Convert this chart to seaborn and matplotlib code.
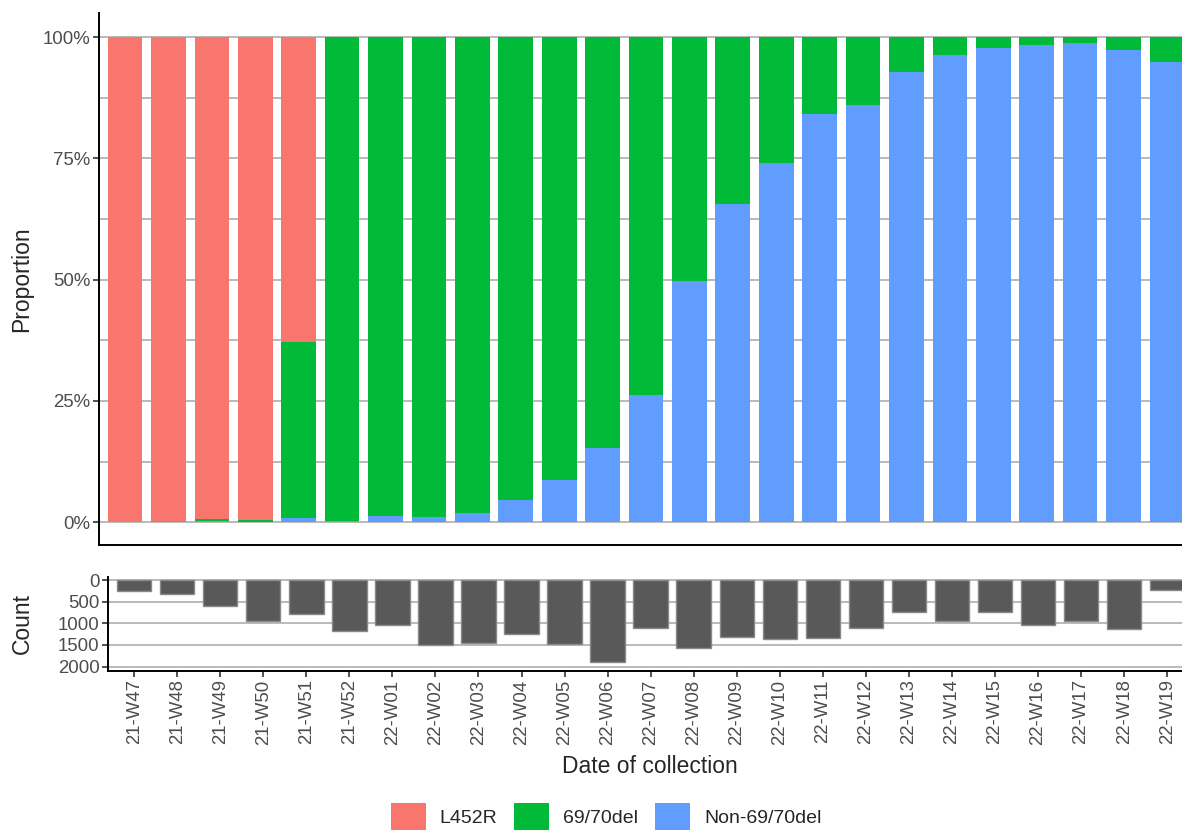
import numpy as np
import pandas as pd
import seaborn as sns
import matplotlib.pyplot as plt
from matplotlib.patches import Patch

# --- data ---
weeks = ['21-W47', '21-W48', '21-W49', '21-W50', '21-W51', '21-W52',
         '22-W01', '22-W02', '22-W03', '22-W04', '22-W05', '22-W06',
         '22-W07', '22-W08', '22-W09', '22-W10', '22-W11', '22-W12',
         '22-W13', '22-W14', '22-W15', '22-W16', '22-W17', '22-W18', '22-W19']
l452r = [1.0, 0.997, 0.994, 0.996, 0.629, 0, 0, 0, 0, 0, 0, 0,
         0, 0, 0, 0, 0, 0, 0, 0, 0, 0, 0, 0, 0]
del6970 = [0, 0, 0.003, 0.004, 0.362, 0.997, 0.988, 0.990, 0.980, 0.955, 0.913, 0.847,
           0.738, 0.503, 0.344, 0.259, 0.158, 0.139, 0.072, 0.037, 0.023, 0.017, 0.011, 0.026, 0.052]
non6970 = [0, 0.003, 0.003, 0, 0.009, 0.003, 0.012, 0.010, 0.020, 0.045, 0.087, 0.153,
           0.262, 0.497, 0.656, 0.741, 0.842, 0.861, 0.928, 0.963, 0.977, 0.983, 0.989, 0.974, 0.948]
counts = [250, 320, 590, 950, 775, 1185, 1045, 1505, 1450, 1235, 1475, 1885,
          1100, 1560, 1310, 1355, 1340, 1100, 735, 955, 735, 1030, 945, 1125, 235]

variants = ['L452R', '69/70del', 'Non-69/70del']
colors = ['#F8766D', '#00BA38', '#619CFF']

df = pd.DataFrame({'week': weeks, 'L452R': l452r, '69/70del': del6970,
                   'Non-69/70del': non6970, 'count': counts})
# cumulative tops, drawn from the top layer down
df['top_non'] = df['Non-69/70del']
df['top_del'] = df['top_non'] + df['69/70del']
df['top_l452'] = df['top_del'] + df['L452R']

sns.set_style('white')
plt.rcParams['font.family'] = ['Liberation Sans', 'DejaVu Sans']

W, H = 1182, 830
fig = plt.figure(figsize=(W / 100, H / 100), dpi=100)
ax1 = fig.add_axes([99 / W, 1 - 545 / H, (1193 - 99) / W, (545 - 13) / H])
ax2 = fig.add_axes([108.3 / W, 1 - 670.7 / H, (1193 - 108.3) / W, (670.7 - 576.7) / H])

tick_col = '#4d4d4d'
grid_col = '#bababa'

# --- top panel: stacked proportions ---
for col, c in zip(['top_l452', 'top_del', 'top_non'], colors):
    sns.barplot(data=df, x='week', y=col, order=weeks, color=c, saturation=1,
                width=0.8, linewidth=0, errorbar=None, ax=ax1, zorder=2)
ax1.set_xlim(-0.6, 24.6)
ax1.set_ylim(-0.047, 1.05)
ax1.set_yticks([0, 0.25, 0.5, 0.75, 1.0])
ax1.set_yticklabels(['0%', '25%', '50%', '75%', '100%'])
for v in np.arange(0, 1.01, 0.125):
    ax1.axhline(v, color=grid_col, lw=1.4, zorder=1)
ax1.set_xticks([])
ax1.set_xlabel('')
ax1.set_ylabel('Proportion', fontsize=16.5, va='center')
ax1.yaxis.set_label_coords((22 - 99) / (1193 - 99), 0.5)
ax1.tick_params(axis='y', labelsize=13.4, labelcolor=tick_col, color='#333333',
                length=4.3, width=1.2, left=True, pad=2)
sns.despine(ax=ax1)
for s in ['left', 'bottom']:
    ax1.spines[s].set_linewidth(1.4)
    ax1.spines[s].set_color('black')

# --- bottom panel: counts (inverted) ---
sns.barplot(data=df, x='week', y='count', order=weeks, color='#595959', saturation=1,
            width=0.8, edgecolor='#8a8a8a', linewidth=1, errorbar=None, ax=ax2, zorder=2)
ax2.set_xlim(-0.6, 24.6)
ax2.set_ylim(2094, -77)
ax2.set_yticks([0, 500, 1000, 1500, 2000])
for v in [0, 500, 1000, 1500, 2000]:
    ax2.axhline(v, color=grid_col, lw=1.4, zorder=1)
ax2.set_xticks(range(len(weeks)))
ax2.set_xticklabels(weeks, rotation=90, ha='center', va='top')
ax2.tick_params(axis='both', labelsize=13.4, labelcolor=tick_col, color='#333333',
                length=4.3, width=1.2, left=True, bottom=True, pad=2)
ax2.set_ylabel('Count', fontsize=16.5, va='center')
ax2.yaxis.set_label_coords((22 - 108.3) / (1193 - 108.3), 0.5)
ax2.set_xlabel('Date of collection', fontsize=16.5, va='center')
ax2.xaxis.set_label_coords((650 - 108.3) / (1193 - 108.3), -(766 - 670.7) / 94)
sns.despine(ax=ax2)
for s in ['left', 'bottom']:
    ax2.spines[s].set_linewidth(1.4)
    ax2.spines[s].set_color('black')

# --- legend ---
handles = [Patch(facecolor=c, edgecolor='none') for c in colors]
fig.legend(handles, variants, loc='center', bbox_to_anchor=(606 / W, 1 - 817 / H),
           ncol=3, frameon=False, fontsize=14, handlelength=1.8, handleheight=1.8,
           handletextpad=0.72, columnspacing=0.87, borderpad=0)

plt.savefig('out.png', dpi=100)
